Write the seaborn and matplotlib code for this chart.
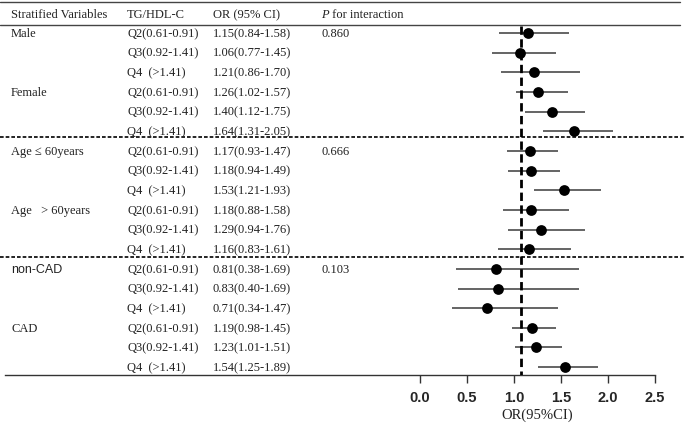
import numpy as np
import pandas as pd
import matplotlib
matplotlib.use("Agg")
import matplotlib.pyplot as plt
import matplotlib.transforms as mtransforms
import seaborn as sns

# table data
groups = ["Male", "", "", "Female", "", "",
          "Age \u2264 60years", "", "", "Age   > 60years", "", "",
          "non-CAD", "", "", "CAD", "", ""]
quartiles = ["Q2(0.61-0.91)", "Q3(0.92-1.41)", "Q4  (>1.41)"] * 6
or_vals = [1.15, 1.06, 1.21, 1.26, 1.40, 1.64,
           1.17, 1.18, 1.53, 1.18, 1.29, 1.16,
           0.81, 0.83, 0.71, 1.19, 1.23, 1.54]
ci_low = [0.84, 0.77, 0.86, 1.02, 1.12, 1.31,
          0.93, 0.94, 1.21, 0.88, 0.94, 0.83,
          0.38, 0.40, 0.34, 0.98, 1.01, 1.25]
ci_high = [1.58, 1.45, 1.70, 1.57, 1.75, 2.05,
           1.47, 1.49, 1.93, 1.58, 1.76, 1.61,
           1.69, 1.69, 1.47, 1.45, 1.51, 1.89]
p_inter = ["0.860", "", "", "", "", "",
           "0.666", "", "", "", "", "",
           "0.103", "", "", "", "", ""]
ref_line = 1.07
xticks = [0.0, 0.5, 1.0, 1.5, 2.0, 2.5]

df = pd.DataFrame({"group": groups, "q": quartiles, "OR": or_vals,
                   "lo": ci_low, "hi": ci_high, "p": p_inter})
df["row"] = np.arange(len(df))
df["label"] = [f"{o:.2f}({l:.2f}-{h:.2f})" for o, l, h in zip(df.OR, df.lo, df.hi)]

sns.set_style("ticks")
plt.rcParams["font.family"] = ["Liberation Serif", "DejaVu Serif"]

W, H = 685, 439
fig = plt.figure(figsize=(W / 100, H / 100), dpi=100)
# axes spans from the table's left edge to the 2.5 tick
ax = fig.add_axes([5 / W, (H - 376) / H, (655 - 5) / W, (376 - 3) / H])
ppu = 94.0  # pixels per OR unit
x0 = -(420.3 - 5) / ppu
ax.set_xlim(x0, 2.5)
ax.set_ylim(17.4, -1.58)

ax.hlines(df.row, df.lo, df.hi, color="#3a3a3a", lw=1.1, zorder=2)
sns.scatterplot(data=df, x="OR", y="row", ax=ax, color="black", s=60,
                edgecolor="black", linewidth=0, zorder=3, legend=False)
ax.vlines(ref_line, -0.35, 17.4, color="black", lw=2, linestyles=(0, (3, 1.6)), zorder=4)

ax.set_xticks(xticks)
ax.set_xticklabels([f"{t:.1f}" for t in xticks], fontfamily="Liberation Sans",
                   fontweight="bold", fontsize=10.5)
ax.tick_params(axis="x", length=6, width=1, color="#333", pad=5)
ax.set_yticks([])
ax.set_xlabel("")
ax.set_ylabel("")
ax.text((537 - 5) / 650, -(415 - 376) / 373, "OR(95%CI)", transform=ax.transAxes,
        ha="center", va="center", fontsize=10.5, color="#222")
for s in ["top", "right", "left"]:
    ax.spines[s].set_visible(False)
ax.spines["bottom"].set_color("#333")
ax.spines["bottom"].set_linewidth(1)

tr = mtransforms.blended_transform_factory(fig.transFigure, ax.transData)
fs = 9
col_x = [11 / W, 127 / W, 213 / W, 321 / W]
txt = dict(transform=tr, fontsize=fs, va="center", color="#222")
ax.text(col_x[0], -0.97, "Stratified Variables", **txt)
ax.text(col_x[1], -0.97, "TG/HDL-C", **txt)
ax.text(col_x[2], -0.97, "OR (95% CI)", **txt)
hp = ax.text(col_x[3], -0.97, "P", style="italic", **txt)
ax.annotate(" for interaction", xycoords=hp, xy=(1, 0.5), va="center",
            fontsize=fs, color="#222")

for _, r in df.iterrows():
    if r.group:
        fam = "Liberation Sans" if r.group == "non-CAD" else "Liberation Serif"
        ax.text(col_x[0], r.row, r.group, fontfamily=fam, **txt)
    ax.text(col_x[1], r.row, r.q, **txt)
    ax.text(col_x[2], r.row, r.label, **txt)
    if r.p:
        ax.text(col_x[3], r.row, r.p, **txt)

# table rules
for yy in [-1.58, -0.4]:
    ax.plot([0, 680 / W], [yy, yy], transform=tr, color="#444", lw=1, clip_on=False)
for yy in [5.3, 11.4]:
    ax.plot([0, 1], [yy, yy], transform=tr, color="black", lw=1.2,
            linestyle=(0, (2.2, 1.2)), clip_on=False)

fig.savefig("out.png", dpi=100, facecolor="white")
